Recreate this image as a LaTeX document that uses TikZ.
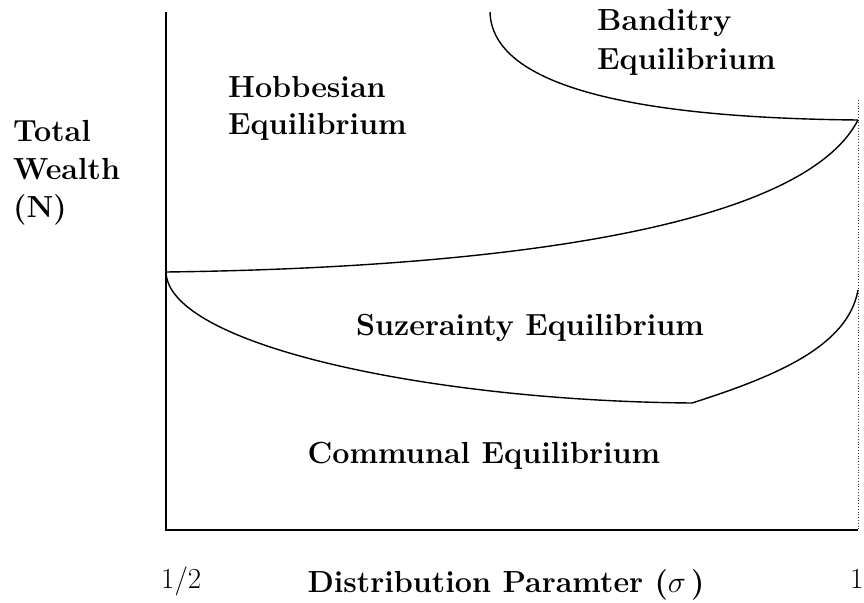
\RequirePackage{fix-cm}
\documentclass[tikz,border=0pt]{standalone}
\usepackage{fontspec}
\begin{document}
\begin{tikzpicture}[x=1pt,y=-1pt,
  lbl/.style={inner sep=0pt,font=\fontsize{30.5}{36}\selectfont\bfseries},
  tick/.style={inner sep=0pt,font=\fontsize{29}{34}\selectfont},
  curve/.style={line width=1.4pt},
  axis/.style={line width=1.5pt}]
\useasboundingbox (0,0) rectangle (864,602);
% axis corners
\coordinate (ytop) at (166,12);
\coordinate (orig) at (166,530);
\coordinate (xend) at (858,530);
\coordinate (dtop) at (858,100);
% curve points
\coordinate (bstart) at (490,12);
\coordinate (meet) at (858,120);
\coordinate (left) at (166,272);
\coordinate (kink) at (692,403);
\coordinate (rtop) at (858,290);
% axes
\draw[axis] (ytop) -- (orig) -- (xend);
\draw[line width=0.8pt,dotted,black!80] (dtop) -- (xend);
% curves
\draw[curve] (bstart) .. controls (492,88) and (640,118) .. (meet);
\draw[curve] (left) .. controls (480,268) and (800,232) .. (meet);
\draw[curve] (left) .. controls (168,345) and (430,401) .. (kink);
\draw[curve] (kink) .. controls (780,375) and (848,345) .. (rtop);
% labels
\node[lbl,anchor=base west] (ban1) at (597,31) {Banditry};
\node[lbl,anchor=base west] (ban2) at (597,70) {Equilibrium};
\node[lbl,anchor=base west] (hob1) at (228,97) {Hobbesian};
\node[lbl,anchor=base west] (hob2) at (228,134) {Equilibrium};
\node[lbl,anchor=base west] (tw1) at (13,141) {Total};
\node[lbl,anchor=base west] (tw2) at (13,179) {Wealth};
\node[lbl,anchor=base west] (tw3) at (13,217) {(N)};
\node[lbl,anchor=base] (suz) at (530,335) {Suzerainty Equilibrium};
\node[lbl,anchor=base] (com) at (484,463) {Communal Equilibrium};
\node[tick,anchor=base west] (half) at (161,588) {1/2};
\node[lbl,anchor=base] (dist) at (506,592) {Distribution Paramter ($\sigma$\,)};
\node[tick,anchor=base west] (one) at (850,588) {1};
\end{tikzpicture}
\end{document}
